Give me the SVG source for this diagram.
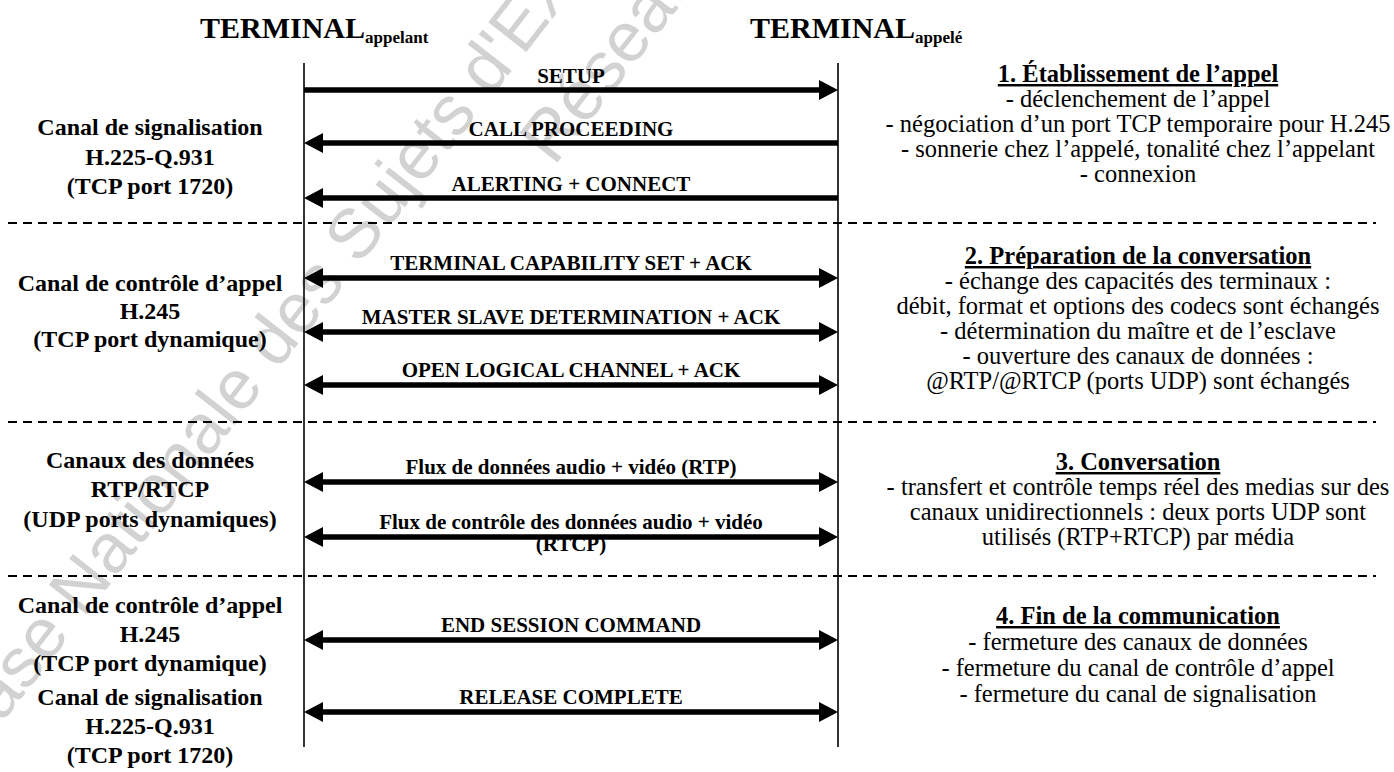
<svg xmlns="http://www.w3.org/2000/svg" width="1394" height="772" viewBox="0 0 1394 772">
  <style>
    .wm { font-family: "Liberation Sans", Arial, sans-serif; font-size: 70px; fill: #d2d2d2; }
    .title { font-family: "Liberation Serif", "Times New Roman", serif; font-size: 30px; font-weight: bold; fill: #000; }
    .sub { font-size: 17px; }
    .chan { font-family: "Liberation Serif", "Times New Roman", serif; font-size: 24px; font-weight: bold; fill: #000; text-anchor: middle; }
    .msg { font-family: "Liberation Serif", "Times New Roman", serif; font-size: 21px; font-weight: bold; fill: #000; text-anchor: middle; }
    .desc { font-family: "Liberation Serif", "Times New Roman", serif; font-size: 24.5px; fill: #000; text-anchor: middle; }
    .head { font-weight: bold; text-decoration: underline; }
    .life { stroke: #000; stroke-width: 1.6; fill: none; }
    .sep { stroke: #000; stroke-width: 2; stroke-dasharray: 9 6; fill: none; }
    .shaft { stroke: #000; stroke-width: 5.5; fill: none; }
  </style>
  <defs>
    <!-- arrowheads drawn with their tip at the origin -->
    <polygon id="tipR" points="0,0 -19,-10 -19,10" fill="#000"/>
    <polygon id="tipL" points="0,0 19,-10 19,10" fill="#000"/>
  </defs>

  <rect width="1394" height="772" fill="#fff"/>

  <!-- faint background stamp -->
  <g id="stamp">
    <text class="wm" transform="translate(-27,760) rotate(-52)">Base Nationale des Sujets d'Examens</text>
    <text class="wm" transform="translate(554,167) rotate(-52)">Réseau</text>
  </g>

  <!-- terminal headers -->
  <g id="term-caller">
    <text class="title" x="200" y="38">TERMINAL<tspan class="sub" dy="5">appelant</tspan></text>
  </g>
  <g id="term-callee">
    <text class="title" x="750" y="38">TERMINAL<tspan class="sub" dy="5">appelé</tspan></text>
  </g>

  <!-- lifelines -->
  <g id="lifelines">
    <line class="life" x1="304" y1="63" x2="304" y2="747"/>
    <line class="life" x1="838" y1="63" x2="838" y2="747"/>
  </g>

  <!-- phase separators -->
  <g id="separators">
    <line class="sep" x1="8" y1="223" x2="1376" y2="223"/>
    <line class="sep" x1="8" y1="422" x2="1376" y2="422"/>
    <line class="sep" x1="8" y1="576" x2="1376" y2="576"/>
  </g>

  <!-- channel labels, left column -->
  <g id="chan-sig-1">
    <text class="chan" x="150" y="135">Canal de signalisation</text>
    <text class="chan" x="150" y="165">H.225-Q.931</text>
    <text class="chan" x="150" y="194">(TCP port 1720)</text>
  </g>
  <g id="chan-ctrl-1">
    <text class="chan" x="150" y="291">Canal de contrôle d’appel</text>
    <text class="chan" x="150" y="319">H.245</text>
    <text class="chan" x="150" y="347">(TCP port dynamique)</text>
  </g>
  <g id="chan-data">
    <text class="chan" x="150" y="468">Canaux des données</text>
    <text class="chan" x="150" y="497">RTP/RTCP</text>
    <text class="chan" x="150" y="527">(UDP ports dynamiques)</text>
  </g>
  <g id="chan-ctrl-2">
    <text class="chan" x="150" y="613">Canal de contrôle d’appel</text>
    <text class="chan" x="150" y="642">H.245</text>
    <text class="chan" x="150" y="671">(TCP port dynamique)</text>
  </g>
  <g id="chan-sig-2">
    <text class="chan" x="150" y="705">Canal de signalisation</text>
    <text class="chan" x="150" y="734">H.225-Q.931</text>
    <text class="chan" x="150" y="763">(TCP port 1720)</text>
  </g>

  <!-- message labels -->
  <g id="msg-labels">
    <text class="msg" x="571" y="83">SETUP</text>
    <text class="msg" x="571" y="136">CALL PROCEEDING</text>
    <text class="msg" x="571" y="191">ALERTING + CONNECT</text>
    <text class="msg" x="571" y="270">TERMINAL CAPABILITY SET + ACK</text>
    <text class="msg" x="571" y="324">MASTER SLAVE DETERMINATION + ACK</text>
    <text class="msg" x="571" y="377">OPEN LOGICAL CHANNEL + ACK</text>
    <text class="msg" x="571" y="474">Flux de données audio + vidéo (RTP)</text>
    <text class="msg" x="571" y="529">Flux de contrôle des données audio + vidéo</text>
    <text class="msg" x="571" y="551">(RTCP)</text>
    <text class="msg" x="571" y="632">END SESSION COMMAND</text>
    <text class="msg" x="571" y="704">RELEASE COMPLETE</text>
  </g>

  <!-- message arrows -->
  <g id="connectors">
    <!-- caller to callee -->
    <line class="shaft" x1="304" y1="90" x2="822" y2="90"/>
    <use href="#tipR" x="838" y="90"/>
    <!-- callee to caller -->
    <line class="shaft" x1="320" y1="143" x2="838" y2="143"/>
    <use href="#tipL" x="304" y="143"/>
    <line class="shaft" x1="320" y1="198" x2="838" y2="198"/>
    <use href="#tipL" x="304" y="198"/>
    <!-- both ways -->
    <line class="shaft" x1="320" y1="278" x2="822" y2="278"/>
    <use href="#tipL" x="304" y="278"/><use href="#tipR" x="838" y="278"/>
    <line class="shaft" x1="320" y1="332" x2="822" y2="332"/>
    <use href="#tipL" x="304" y="332"/><use href="#tipR" x="838" y="332"/>
    <line class="shaft" x1="320" y1="385" x2="822" y2="385"/>
    <use href="#tipL" x="304" y="385"/><use href="#tipR" x="838" y="385"/>
    <line class="shaft" x1="320" y1="482" x2="822" y2="482"/>
    <use href="#tipL" x="304" y="482"/><use href="#tipR" x="838" y="482"/>
    <line class="shaft" x1="320" y1="537" x2="822" y2="537"/>
    <use href="#tipL" x="304" y="537"/><use href="#tipR" x="838" y="537"/>
    <line class="shaft" x1="320" y1="640" x2="822" y2="640"/>
    <use href="#tipL" x="304" y="640"/><use href="#tipR" x="838" y="640"/>
    <line class="shaft" x1="320" y1="712" x2="822" y2="712"/>
    <use href="#tipL" x="304" y="712"/><use href="#tipR" x="838" y="712"/>
  </g>

  <!-- phase descriptions, right column -->
  <g id="phase-1">
    <text class="desc head" x="1138" y="82">1. Établissement de l’appel</text>
    <text class="desc" x="1138" y="107">- déclenchement de l’appel</text>
    <text class="desc" x="1138" y="132">- négociation d’un port TCP temporaire pour H.245</text>
    <text class="desc" x="1138" y="157">- sonnerie chez l’appelé, tonalité chez l’appelant</text>
    <text class="desc" x="1138" y="182">- connexion</text>
  </g>
  <g id="phase-2">
    <text class="desc head" x="1138" y="264">2. Préparation de la conversation</text>
    <text class="desc" x="1138" y="289">- échange des capacités des terminaux :</text>
    <text class="desc" x="1138" y="314">débit, format et options des codecs sont échangés</text>
    <text class="desc" x="1138" y="339">- détermination du maître et de l’esclave</text>
    <text class="desc" x="1138" y="364">- ouverture des canaux de données :</text>
    <text class="desc" x="1138" y="389">@RTP/@RTCP (ports UDP) sont échangés</text>
  </g>
  <g id="phase-3">
    <text class="desc head" x="1138" y="470">3. Conversation</text>
    <text class="desc" x="1138" y="495">- transfert et contrôle temps réel des medias sur des</text>
    <text class="desc" x="1138" y="520">canaux unidirectionnels : deux ports UDP sont</text>
    <text class="desc" x="1138" y="545">utilisés (RTP+RTCP) par média</text>
  </g>
  <g id="phase-4">
    <text class="desc head" x="1138" y="624">4. Fin de la communication</text>
    <text class="desc" x="1138" y="650">- fermeture des canaux de données</text>
    <text class="desc" x="1138" y="676">- fermeture du canal de contrôle d’appel</text>
    <text class="desc" x="1138" y="702">- fermeture du canal de signalisation</text>
  </g>
</svg>
